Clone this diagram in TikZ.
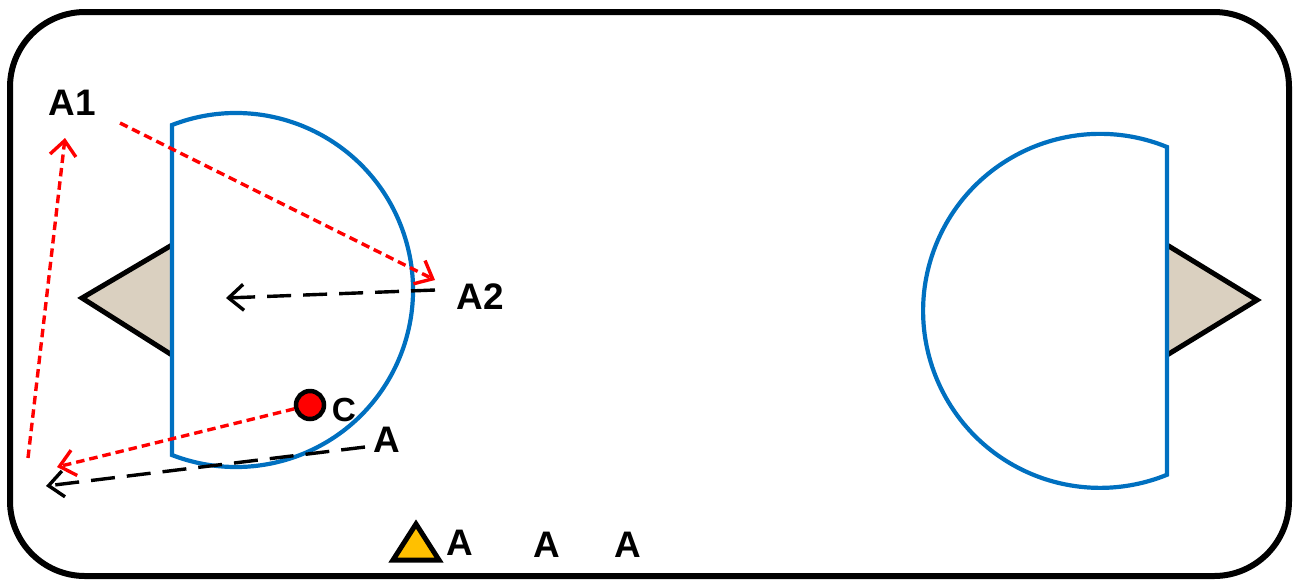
\documentclass[tikz,border=0pt]{standalone}
\usepackage{fontspec}
\setmainfont{Liberation Sans}
\usetikzlibrary{arrows.meta}
\definecolor{dblue}{RGB}{0,112,192}
\definecolor{linen}{RGB}{218,208,192}
\definecolor{amber}{RGB}{255,192,0}
\begin{document}
\begin{tikzpicture}[
    lbl/.style   ={inner sep=0pt, font=\fontsize{10.5}{12}\selectfont\bfseries},
    dshape/.style={draw=dblue, line width=0.042cm, fill=white},
    wedge/.style ={draw=black, line width=0.05cm, fill=linen, line join=miter},
    redarr/.style={draw=red, line width=0.034cm, dash pattern=on 0.085cm off 0.05cm,
                   -{Straight Barb[length=1.5mm, width=2.6mm]}},
    blkarr/.style={draw=black, line width=0.034cm, dash pattern=on 0.24cm off 0.12cm,
                   -{Straight Barb[length=1.5mm, width=2.6mm]}},
  ]
  \useasboundingbox (0,0) rectangle (12.99,5.79);
  % frame
  \draw[line width=0.06cm, rounded corners=0.75cm] (0.10,0.03) rectangle (12.89,5.67);
  % goals
  \draw[wedge] (1.72,3.34) -- (0.82,2.81) -- (1.72,2.24);
  \draw[wedge] (11.67,3.34) -- (12.57,2.79) -- (11.67,2.24);
  \draw[dshape] (1.72,4.54) arc[start angle=111.2, end angle=-111.2, radius=1.77] -- cycle;
  \draw[dshape] (11.67,4.32) arc[start angle=67.8, end angle=292.2, radius=1.77] -- cycle;
  % labels
  \node[lbl] (a1) at (0.72,4.76) {A1};
  \node[lbl] (a2) at (4.80,2.82) {A2};
  \node[lbl, font=\fontsize{9.5}{11}\selectfont\bfseries] (cl) at (3.44,1.69) {C};
  \node[lbl] (a)  at (3.87,1.39) {A};
  \node[lbl] (b1) at (4.60,0.36) {A};
  \node[lbl] (b2) at (5.47,0.34) {A};
  \node[lbl] (b3) at (6.28,0.34) {A};
  \node[circle, draw=black, fill=red, line width=0.045cm, minimum size=0.28cm, inner sep=0pt] (c) at (3.10,1.74) {};
  \draw[fill=amber, line width=0.05cm, line join=miter] (3.93,0.19) -- (4.16,0.55) -- (4.39,0.19) -- cycle;
  % runs
  \coordinate (p1) at (1.20,4.56);
  \coordinate (p2) at (4.35,2.99);
  \coordinate (p3) at (0.28,1.21);
  \coordinate (p4) at (0.65,4.41);
  \coordinate (p5) at (0.57,1.12);
  \coordinate (q1) at (4.35,2.89);
  \coordinate (q2) at (2.26,2.81);
  \coordinate (q3) at (3.65,1.32);
  \coordinate (q4) at (0.46,0.93);
  \draw[redarr] (p1) -- (p2);
  \draw[redarr] (p3) -- (p4);
  \draw[redarr] (c) -- (p5);
  \draw[blkarr] (q1) -- (q2);
  \draw[blkarr] (q3) -- (q4);
\end{tikzpicture}
\end{document}
